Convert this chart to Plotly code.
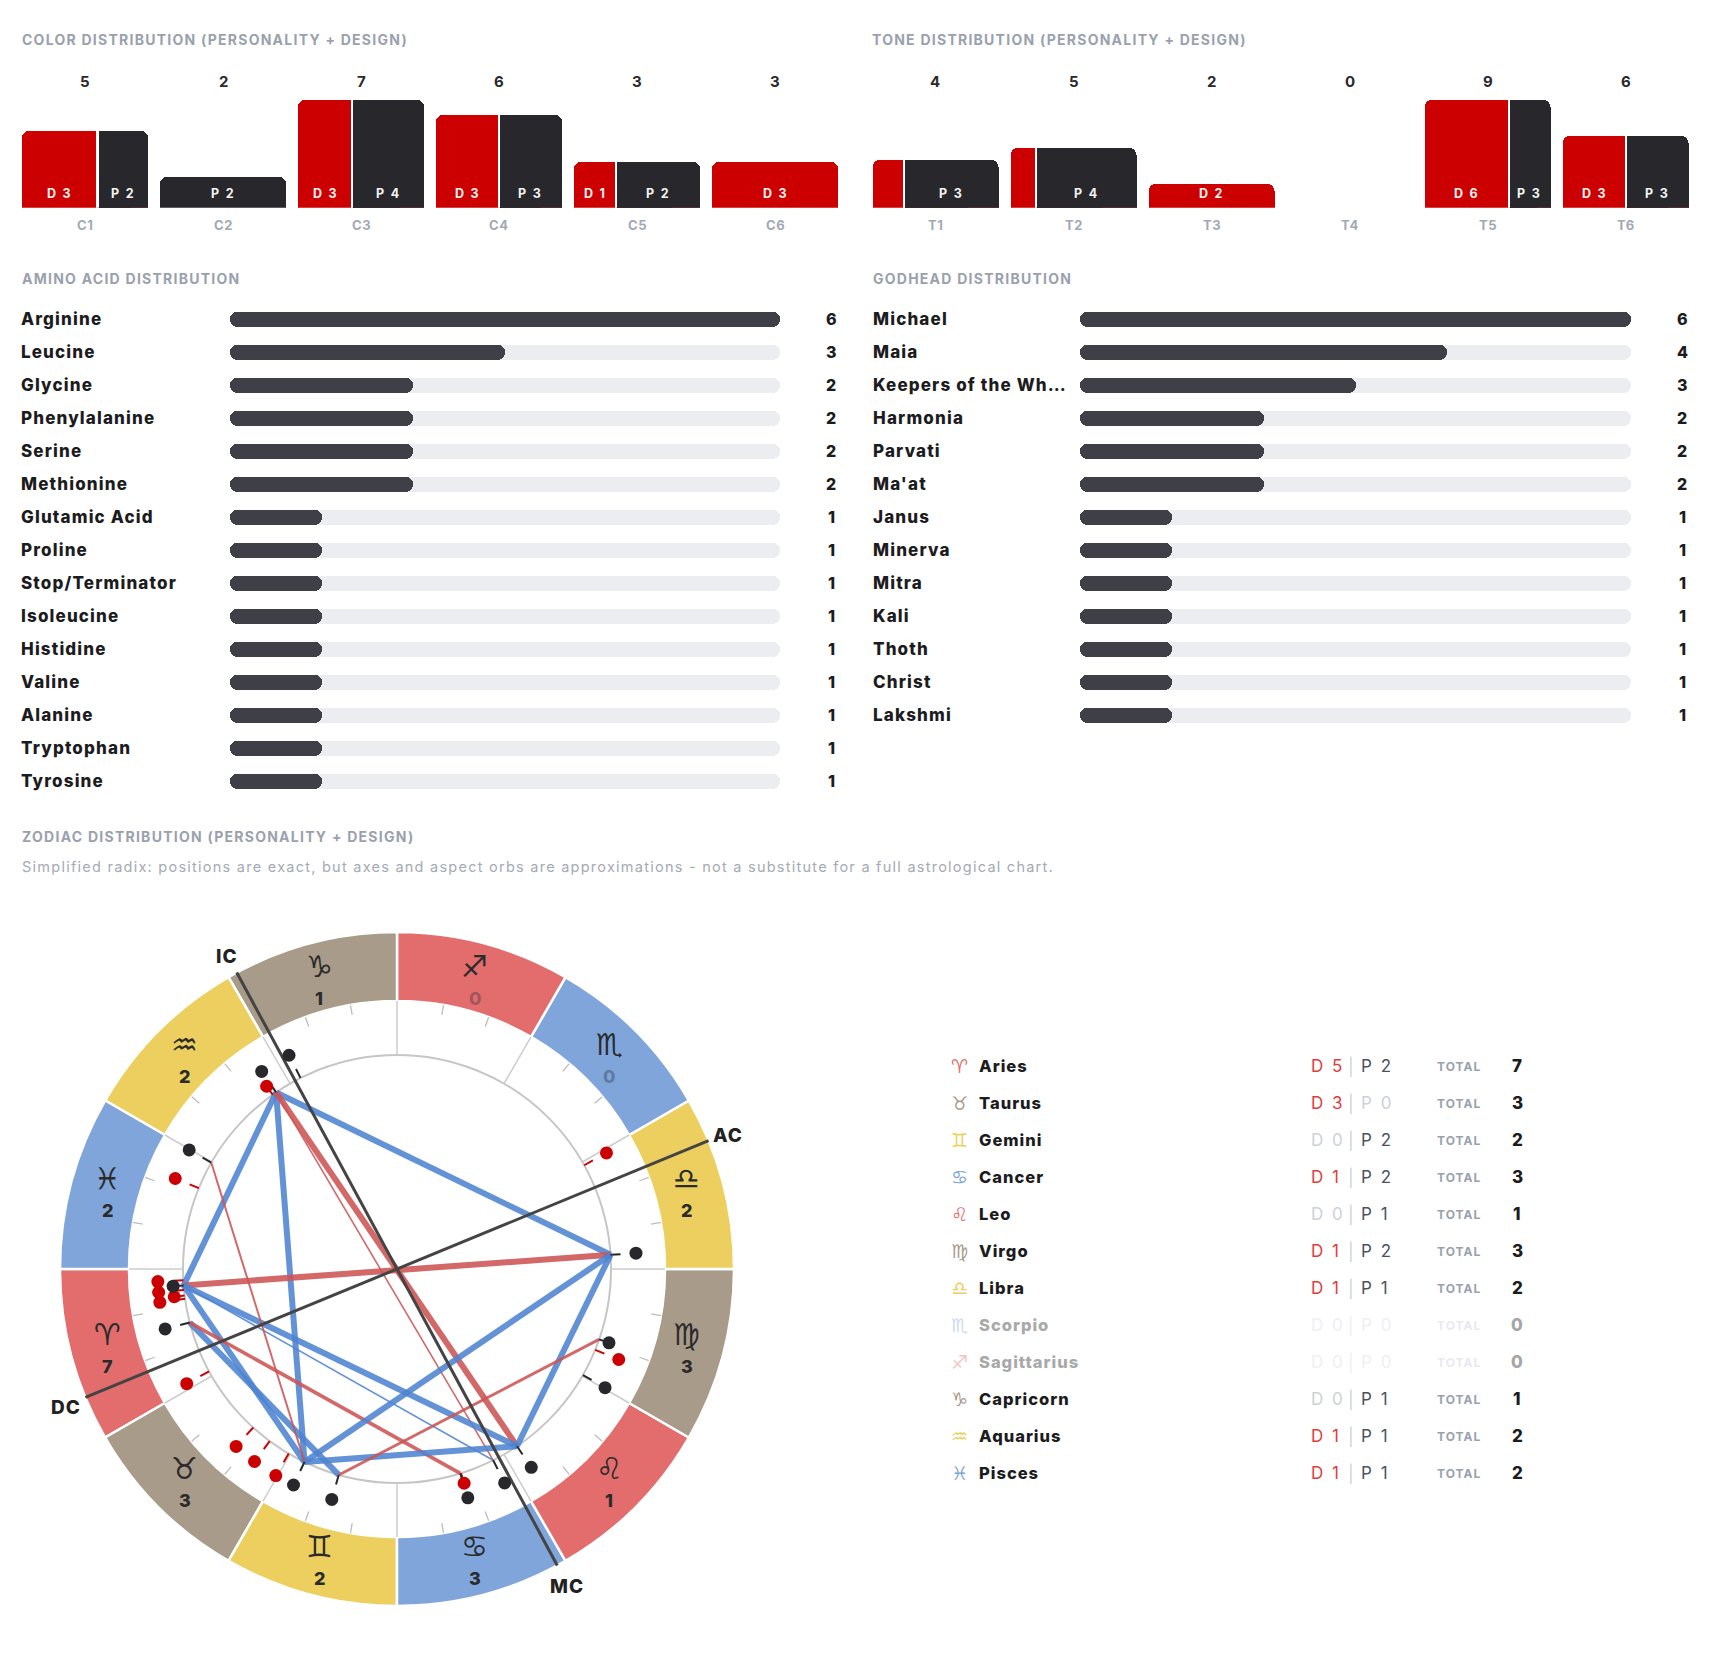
import math
import plotly.graph_objects as go

W, H = 1710, 1662

# ---- values ----
color_cats = ["C1", "C2", "C3", "C4", "C5", "C6"]
color_design = [3, 0, 3, 3, 1, 3]
color_personality = [2, 2, 4, 3, 2, 0]

tone_cats = ["T1", "T2", "T3", "T4", "T5", "T6"]
tone_design = [1, 1, 2, 0, 6, 3]
tone_personality = [3, 4, 0, 0, 3, 3]

amino_names = ["Arginine", "Leucine", "Glycine", "Phenylalanine", "Serine", "Methionine",
               "Glutamic Acid", "Proline", "Stop/Terminator", "Isoleucine", "Histidine",
               "Valine", "Alanine", "Tryptophan", "Tyrosine"]
amino_counts = [6, 3, 2, 2, 2, 2, 1, 1, 1, 1, 1, 1, 1, 1, 1]

godhead_names = ["Michael", "Maia", "Keepers of the Wh…", "Harmonia", "Parvati", "Ma'at",
                 "Janus", "Minerva", "Mitra", "Kali", "Thoth", "Christ", "Lakshmi"]
godhead_counts = [6, 4, 3, 2, 2, 2, 1, 1, 1, 1, 1, 1, 1]

signs = ["Aries", "Taurus", "Gemini", "Cancer", "Leo", "Virgo", "Libra", "Scorpio",
         "Sagittarius", "Capricorn", "Aquarius", "Pisces"]
sign_glyphs = ["♈", "♉", "♊", "♋", "♌", "♍", "♎", "♏", "♐", "♑", "♒", "♓"]
elements = ["fire", "earth", "air", "water"] * 3

# ecliptic longitudes (deg) of the design (red) and personality (black) activations
design_lon = [3.0, 5.6, 7.1, 8.0, 28.6, 47.8, 53.5, 59.6, 107.4, 157.8, 209.0, 305.5, 337.8]
personality_lon = [4.4, 14.5, 64.4, 74.2, 107.2, 116.7, 124.1, 150.3, 160.8, 183.8,
                   296.8, 304.4, 330.2]
# aspect pairs, indices into personality_lon
aspects = [(11, 9), (11, 0), (11, 2), (11, 6), (11, 5), (0, 9), (0, 6), (0, 5), (0, 2),
           (1, 3), (1, 4), (9, 2), (9, 6), (2, 6), (12, 2), (8, 3)]
axis_names = ["AC", "DC", "MC", "IC"]
axis_lon = [202.4, 22.4, 118.4, 298.4]

# ---- styling ----
RED = "#CC0000"
DARK = "#28282C"
TRACK = "#ECEDF1"
FILL = "#3F3F48"
MUTED = "#9AA1AD"
INK = "#1C1C1E"
FONT = "Inter"
ELEM = {"fire": "#E36D6D", "earth": "#A89B8A", "air": "#ECCF5E", "water": "#7FA5DB"}
BW = 0.913


def px(x):
    return x / W


def py(y):
    return 1 - y / H


def sp(text, spacing):
    return "<span style='letter-spacing:%.2fpx'>%s</span>" % (spacing, text)


fig = go.Figure()
ann = []


def note(text, x, y, size, color, xanchor="left", xref="paper", yref="paper", family=FONT,
         opacity=1, weight="normal", yshift=0):
    ann.append(dict(text=text, x=x, y=y, xref=xref, yref=yref, xanchor=xanchor, yanchor="middle",
                    showarrow=False, opacity=opacity, yshift=yshift,
                    font=dict(family=family, size=size, color=color, weight=weight)))


# ---- section titles ----
for t, x, y in [("COLOR DISTRIBUTION (PERSONALITY + DESIGN)", 20, 39),
                ("TONE DISTRIBUTION (PERSONALITY + DESIGN)", 870, 39),
                ("AMINO ACID DISTRIBUTION", 20, 278),
                ("GODHEAD DISTRIBUTION", 871, 278),
                ("ZODIAC DISTRIBUTION (PERSONALITY + DESIGN)", 20, 836)]:
    note(sp(t, 1.25), px(x), py(y), 14, MUTED, weight="bold")
note(sp("Simplified radix: positions are exact, but axes and aspect orbs are approximations - "
        "not a substitute for a full astrological chart.", 1.25), px(20), py(867), 14.5, "#A5AAB4")

nol = dict(width=0)


# ---- split vertical bars (design | personality) ----
def split_bars(cats, dv, pv, xa, ya):
    n = len(cats)
    xs = list(range(n))
    tot = [d + p for d, p in zip(dv, pv)]
    dw = [BW * d / t if t else 0 for d, t in zip(dv, tot)]
    pw = [BW * p / t if t else 0 for p, t in zip(pv, tot)]
    left = [i - BW / 2 for i in xs]
    mixed = [t if (d > 0 and p > 0) else None for d, p, t in zip(dv, pv, tot)]
    common = dict(xaxis=xa, yaxis=ya, showlegend=False, hoverinfo="skip", cliponaxis=False)
    fig.add_trace(go.Bar(x=xs, y=[t if t else None for t in tot], width=BW,
                         marker=dict(color=[RED if d > 0 else DARK for d in dv], cornerradius=7, line=nol),
                         **common))
    fig.add_trace(go.Bar(x=[l + a + b / 2 for l, a, b in zip(left, dw, pw)], y=mixed,
                         width=[b if b else 0.1 for b in pw],
                         marker=dict(color=DARK, cornerradius=7, line=nol), **common))
    fig.add_trace(go.Bar(x=[l + a + b / 3 for l, a, b in zip(left, dw, pw)], y=mixed,
                         width=[b * 2 / 3 if b else 0.1 for b in pw],
                         marker=dict(color=DARK, cornerradius=0, line=nol), **common))
    fig.add_trace(go.Bar(x=[l + a for l, a in zip(left, dw)], y=mixed, width=0.014,
                         marker=dict(color="white", line=nol), **common))
    for i in xs:
        t = tot[i]
        note("%d" % t, i, py(81), 15, "#2A2A2E", xanchor="center", xref=xa, weight="bold")
        note(sp(cats[i], 0.6), i, py(225), 13, "#A3A9B4", xanchor="center", xref=xa, weight="bold")
        if t == 0:
            continue
        if dv[i] / t >= 0.3:
            note(sp("D %d" % dv[i], 1.8), left[i] + dw[i] / 2, py(193), 12.5, "#F4F4F4",
                 xanchor="center", xref=xa, weight="bold")
        if pv[i] / t >= 0.3:
            note(sp("P %d" % pv[i], 1.8), left[i] + dw[i] + pw[i] / 2, py(193), 12.5, "#F4F4F4",
                 xanchor="center", xref=xa, weight="bold")
    return max(tot)


cmax = split_bars(color_cats, color_design, color_personality, "x", "y")
tmax = split_bars(tone_cats, tone_design, tone_personality, "x2", "y2")


# ---- pill bars ----
def pill_bars(names, vals, xa, ya, label_x, value_x):
    n = len(names)
    ys = list(range(n))
    vmax = max(vals)
    common = dict(xaxis=xa, yaxis=ya, orientation="h", width=0.445, showlegend=False, hoverinfo="skip")
    for series, col in [([vmax] * n, TRACK), (vals, FILL)]:
        lo = [v * 0.4 for v in series]
        hi = [v * 0.6 for v in series]
        fig.add_trace(go.Bar(y=ys, x=hi, base=lo, marker=dict(color=col, cornerradius="50%", line=nol), **common))
        fig.add_trace(go.Bar(y=ys, x=[-h for h in hi], base=hi,
                             marker=dict(color=col, cornerradius="50%", line=nol), **common))
    for i in ys:
        note(sp(names[i], 1.15), px(label_x), i, 17, INK, yref=ya, weight=800)
        note("%d" % vals[i], px(value_x), i, 16, INK, xanchor="center", yref=ya, weight=800)
    return n


na = pill_bars(amino_names, amino_counts, "x3", "y3", 19, 831)
ng = pill_bars(godhead_names, godhead_counts, "x4", "y4", 871, 1682)

# ---- zodiac wheel ----
R_IN, R_RING, R_OUT = 214, 268, 337
d_sign = [0] * 12
p_sign = [0] * 12
for lon in design_lon:
    d_sign[int(lon // 30)] += 1
for lon in personality_lon:
    p_sign[int(lon // 30)] += 1
tot_sign = [a + b for a, b in zip(d_sign, p_sign)]
mids = [15 + 30 * k for k in range(12)]
starts = [30 * k for k in range(12)]

fig.add_trace(go.Barpolar(theta=mids, r=[R_OUT - R_RING] * 12, base=R_RING, width=30,
                          marker=dict(color=[ELEM[e] for e in elements], line=dict(color="white", width=2.5)),
                          showlegend=False, hoverinfo="skip"))


def wheel_xy(lon, r):
    # same orientation as the polar subplot: 0 deg at the left, counter-clockwise
    a = math.radians(lon)
    return -r * math.cos(a), -r * math.sin(a)


for k in range(12):
    x, y = wheel_xy(mids[k], 300)
    cc = "#2B2B2B" if tot_sign[k] else "rgba(50,50,60,0.38)"
    note(sign_glyphs[k] + "\ufe0e", x, y, 30, "#2B2B2B", xanchor="center", xref="x5", yref="y5",
         family="DejaVu Sans", yshift=12.5)
    note("%d" % tot_sign[k], x, y, 18, cc, xanchor="center", xref="x5", yref="y5", weight=800, yshift=-19.5)

bt, br, mt, mr = [], [], [], []
for s in starts:
    bt += [s, s, None]
    br += [R_IN, R_RING, None]
    for off in (10, 20):
        mt += [s + off, s + off, None]
        mr += [R_RING - 10, R_RING, None]
fig.add_trace(go.Scatterpolar(theta=bt, r=br, mode="lines", line=dict(color="#CDCDCD", width=1.5),
                              showlegend=False, hoverinfo="skip"))
fig.add_trace(go.Scatterpolar(theta=mt, r=mr, mode="lines", line=dict(color="#BDBDBD", width=1.3),
                              showlegend=False, hoverinfo="skip"))

# aspects between personality activations
for a, b in aspects:
    la, lb = personality_lon[a], personality_lon[b]
    sep = abs(la - lb) % 360
    sep = min(sep, 360 - sep)
    kind = min([60, 90, 120, 180], key=lambda k: abs(sep - k))
    orb = abs(sep - kind)
    col = "rgb(78,132,210)" if kind in (60, 120) else "rgb(206,84,84)"
    wdt = max(1.6, min(6.0, 6.8 - 1.15 * orb))
    fig.add_trace(go.Scatterpolar(theta=[la, lb], r=[R_IN, R_IN], mode="lines", opacity=0.88,
                                  line=dict(color=col, width=wdt), showlegend=False, hoverinfo="skip"))

# angular axes
for i in (0, 2):
    fig.add_trace(go.Scatterpolar(theta=[axis_lon[i], axis_lon[i + 1]], r=[R_OUT, R_OUT], mode="lines",
                                  line=dict(color="#444444", width=3), showlegend=False, hoverinfo="skip"))
for name, lon in zip(axis_names, axis_lon):
    x, y = wheel_xy(lon, 358)
    note(sp(name, 1.0), x, y, 19, "#222222", xanchor="center", xref="x5", yref="y5", weight=800, yshift=-2.5)

# activation dots, stacked in two lanes when crowded
pts = sorted([(lon, "D") for lon in design_lon] + [(lon, "P") for lon in personality_lon])
lane_r = [239.5, 224.5]
last = [None, None]
placed = {"D": ([], []), "P": ([], [])}
for lon, g in pts:
    gaps = [lon - l if l is not None else 999 for l in last]
    if gaps[0] >= 3.1:
        lane = 0
    elif gaps[1] >= 3.1:
        lane = 1
    else:
        lane = 0 if gaps[0] >= gaps[1] else 1
    last[lane] = lon
    placed[g][0].append(lon)
    placed[g][1].append(lane_r[lane])

for g, col in (("D", RED), ("P", DARK)):
    th, rr = [], []
    for lon in placed[g][0]:
        th += [lon, lon, None]
        rr += [R_IN, R_IN + 10, None]
    fig.add_trace(go.Scatterpolar(theta=th, r=rr, mode="lines", line=dict(color=col, width=2),
                                  showlegend=False, hoverinfo="skip"))
for g, col in (("D", RED), ("P", DARK)):
    fig.add_trace(go.Scatterpolar(theta=placed[g][0], r=placed[g][1], mode="markers",
                                  marker=dict(color=col, size=13), showlegend=False, hoverinfo="skip"))

# ---- zodiac table ----
for k in range(12):
    y = py(1066 + 37 * k)
    zero = tot_sign[k] == 0
    note(sign_glyphs[k] + "\ufe0e", px(959), y, 19, ELEM[elements[k]], xanchor="center",
         family="DejaVu Sans", opacity=0.4 if zero else 1)
    note(sp(signs[k], 1.0), px(977), y, 16.5, "#A9A9A9" if zero else INK, weight=800)
    faint = "#EEF0F3" if zero else "#CDD1D8"
    note(sp("D %d" % d_sign[k], 2.0), px(1309), y, 17, "#E03C3C" if d_sign[k] else faint)
    note("|", px(1351), y, 17, faint, xanchor="center")
    note(sp("P %d" % p_sign[k], 2.0), px(1359), y, 17, "#4A5263" if p_sign[k] else faint)
    note(sp("TOTAL", 1.0), px(1435), y, 12, "#E8EAEE" if zero else MUTED, weight="bold")
    note("%d" % tot_sign[k], px(1517), y, 17, "#A6A6A6" if zero else INK, xanchor="center", weight=800)

hide = dict(visible=False, fixedrange=True)
wheel_x = [px(17), px(777)]
wheel_y = [py(1649), py(889)]
fig.update_layout(
    width=W, height=H, margin=dict(l=0, r=0, t=0, b=0),
    paper_bgcolor="white", plot_bgcolor="rgba(0,0,0,0)", barmode="overlay", bargap=0,
    showlegend=False, annotations=ann, font=dict(family=FONT),
    xaxis=dict(domain=[px(16), px(844)], range=[-0.5, 5.5], anchor="y", **hide),
    yaxis=dict(domain=[py(207.7), py(100)], range=[0, cmax], anchor="x", **hide),
    xaxis2=dict(domain=[px(866.5), px(1694.5)], range=[-0.5, 5.5], anchor="y2", **hide),
    yaxis2=dict(domain=[py(207.7), py(100)], range=[0, tmax], anchor="x2", **hide),
    xaxis3=dict(domain=[px(230), px(780)], range=[0, max(amino_counts)], anchor="y3", **hide),
    yaxis3=dict(domain=[py(302.8 + 33 * na), py(302.8)], range=[na - 0.5, -0.5], anchor="x3", **hide),
    xaxis4=dict(domain=[px(1080), px(1631)], range=[0, max(godhead_counts)], anchor="y4", **hide),
    yaxis4=dict(domain=[py(302.8 + 33 * ng), py(302.8)], range=[ng - 0.5, -0.5], anchor="x4", **hide),
    xaxis5=dict(domain=wheel_x, range=[-380, 380], anchor="y5", **hide),
    yaxis5=dict(domain=wheel_y, range=[-380, 380], anchor="x5", **hide),
    polar=dict(
        domain=dict(x=wheel_x, y=wheel_y),
        bgcolor="white",
        angularaxis=dict(rotation=180, direction="counterclockwise", showgrid=False, showline=False,
                         showticklabels=False, ticks=""),
        radialaxis=dict(range=[0, 380], tickvals=[R_IN], showgrid=True, gridcolor="#C6C6C6", gridwidth=1.5,
                        showline=False, showticklabels=False, ticks=""),
    ),
)

fig.write_html("out.html", config={"displayModeBar": False},
               post_script="document.body.style.margin='0';")
